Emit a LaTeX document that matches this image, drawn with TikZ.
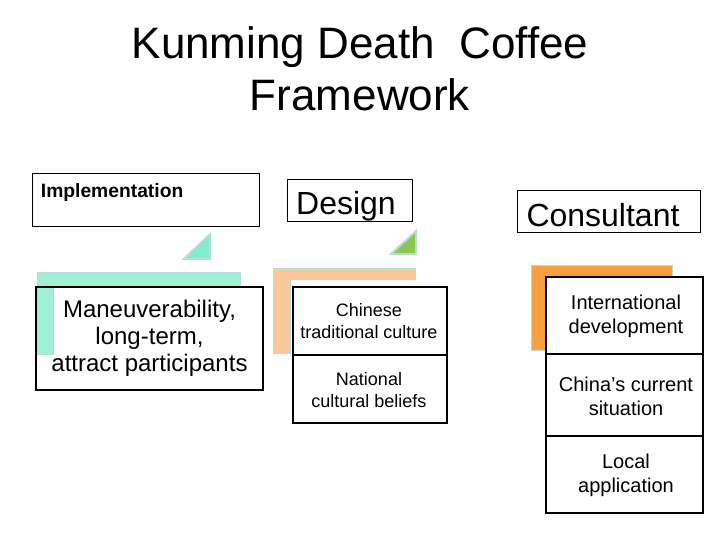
\documentclass[tikz,border=0pt]{standalone}
\usepackage{fontspec}
\setmainfont{Liberation Sans}
\begin{document}
\begin{tikzpicture}[x=1pt,y=-1pt,
  thin box/.style={draw=black,line width=0.8pt,fill=white},
  thick box/.style={draw=black,line width=2.2pt,fill=white,align=center},
  lbl/.style={align=center,inner sep=0pt}]
\useasboundingbox (0,0) rectangle (720,540);
\definecolor{teal1}{HTML}{A0F0D4}
\definecolor{teal2}{HTML}{80EED0}
\definecolor{greenT}{HTML}{8CC850}
\definecolor{peach}{HTML}{F8C898}
\definecolor{orng}{HTML}{F8A040}
\definecolor{edgeb}{HTML}{B8DCDC}
\node[lbl,font=\fontsize{44}{52}\selectfont] (title) at (360,69) {Kunming Death\ \ Coffee\\Framework};
% Implementation column
\draw[thin box] (32,173) rectangle (259,226);
\node[anchor=west,font=\fontsize{23.5}{26}\selectfont\bfseries,scale=0.82] (impl) at (38,193) {Implementation};
\draw[fill=teal2,draw=edgeb,line width=2pt] (184,259) -- (210,259) -- (210,234) -- cycle;
\fill[white] (36,287) rectangle (263,390);
\fill[teal1,draw=edgeb,line width=1pt] (37,272) -- (240,272) -- (240,286) -- (53,286) -- (53,354) -- (37,354) -- cycle;
\draw[draw=black,line width=2.2pt] (36,287) rectangle (263,390);
\node[lbl,font=\fontsize{24}{27}\selectfont] (man) at (149.5,338) {Maneuverability,\\long-term,\\attract participants};
% Design column
\draw[thin box] (287,179) rectangle (412,221);
\node[lbl,font=\fontsize{32}{36}\selectfont] (design) at (346,206) {Design};
\draw[fill=greenT,draw=edgeb,line width=2pt] (391,254) -- (416,254) -- (416,231) -- cycle;
\fill[peach,draw=edgeb,line width=1pt] (273,268) -- (415,268) -- (415,279) -- (290,279) -- (290,353) -- (273,353) -- cycle;
\draw[thick box] (293,287) rectangle (447,355);
\draw[thick box] (293,355) rectangle (447,423);
\node[lbl,font=\fontsize{18}{22}\selectfont] (d1) at (369,321) {Chinese\\traditional culture};
\node[lbl,font=\fontsize{18}{22}\selectfont] (d2) at (369,390) {National\\cultural beliefs};
% Consultant column
\draw[thin box] (517,190) rectangle (700,232);
\node[lbl,font=\fontsize{32}{36}\selectfont] (cons) at (603,215) {Consultant};
\fill[orng,draw=edgeb,line width=1pt] (531,265) rectangle (672,350);
\draw[thick box] (546,277) rectangle (703,354);
\draw[thick box] (546,354) rectangle (703,436);
\draw[thick box] (546,436) rectangle (703,513);
\node[lbl,font=\fontsize{20}{24}\selectfont] (c1) at (626,316) {International\\development};
\node[lbl,font=\fontsize{20}{24}\selectfont] (c2) at (626,396) {China's current\\situation};
\node[lbl,font=\fontsize{20}{24}\selectfont] (c3) at (626,475) {Local\\application};
\end{tikzpicture}
\end{document}
